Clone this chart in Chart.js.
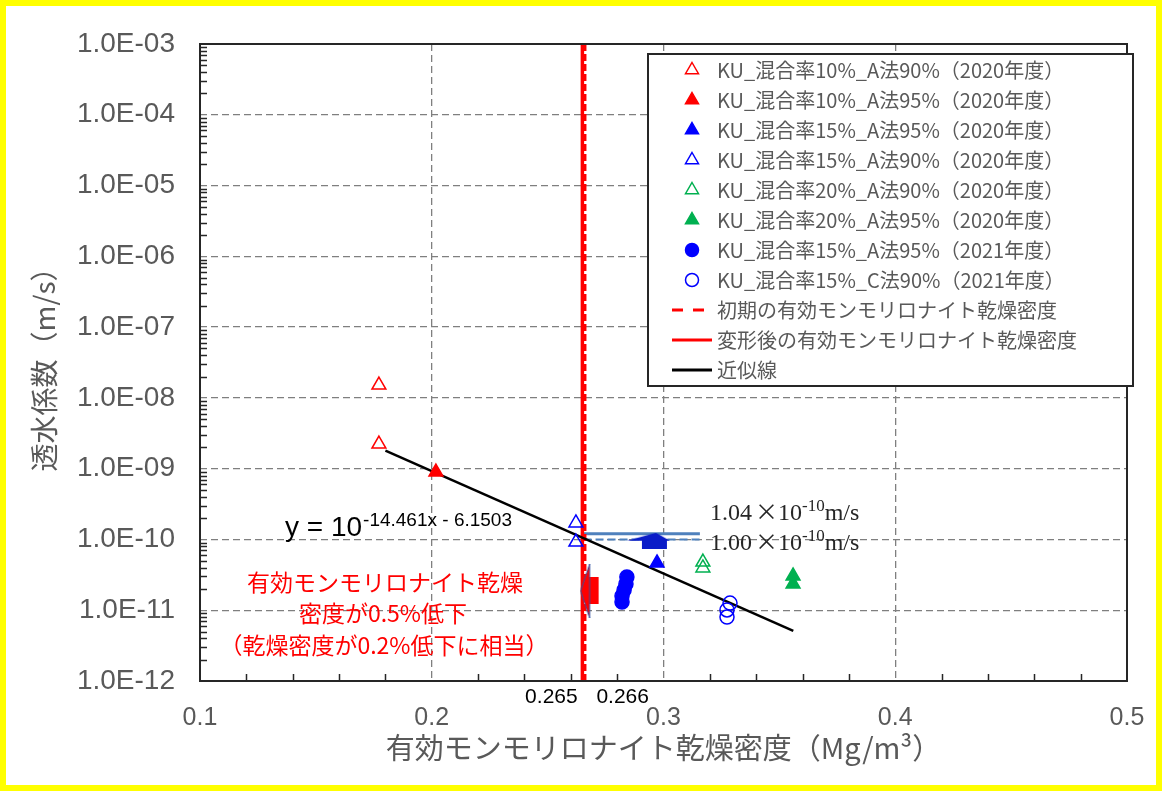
<!DOCTYPE html>
<html><head><meta charset="utf-8">
<script src="https://cdn.jsdelivr.net/npm/chart.js@4/dist/chart.umd.min.js"></script>
<style>html,body{margin:0;padding:0;background:#fff;}canvas{display:block;}</style>
</head><body>
<canvas id="c" width="1162" height="791"></canvas>
<script>
// ---- data ----
const xTicks = [0.1, 0.2, 0.3, 0.4, 0.5];
const yTicks = [1e-12, 1e-11, 1e-10, 1e-9, 1e-8, 1e-7, 1e-6, 1e-5, 1e-4, 1e-3];
const ku10_A90_2020 = [[0.1772, 1.52e-8], [0.1772, 2.23e-9]];
const ku10_A95_2020 = [[0.2018, 8.97e-10]];
const ku15_A95_2020 = [[0.2972, 4.65e-11]];
const ku15_A90_2020 = [[0.2622, 1.71e-10], [0.2622, 9.2e-11]];
const ku20_A90_2020 = [[0.3170, 4.8e-11], [0.3170, 3.96e-11]];
const ku20_A95_2020 = [[0.3559, 3.05e-11], [0.3559, 2.35e-11]];
const ku15_A95_2021 = [[0.2842, 2.95e-11], [0.2838, 2.35e-11], [0.2830, 1.93e-11], [0.2821, 1.59e-11], [0.2821, 1.31e-11]];
const ku15_C90_2021 = [[0.3287, 1.26e-11], [0.3274, 1.01e-11], [0.3274, 8.0e-12]];
const initialDensity = [[0.266, 1e-12], [0.266, 1e-3]];
const deformedDensity = [[0.265, 1e-12], [0.265, 1e-3]];
const fitLine = [[0.18, 1.8e-9], [0.356, 5.1e-12]];
const upperLine = [[0.2655, 1.2e-10], [0.3157, 1.2e-10]];
const lowerLine = [[0.2655, 1.0e-10], [0.3157, 1.0e-10]];
const arrowMark = [[0.2681, 1.87e-11]];
const blueMark = [[0.2937, 9.6e-11]];
const legendLabels = [
  'KU_混合率10%_A法90%（2020年度）',
  'KU_混合率10%_A法95%（2020年度）',
  'KU_混合率15%_A法95%（2020年度）',
  'KU_混合率15%_A法90%（2020年度）',
  'KU_混合率20%_A法90%（2020年度）',
  'KU_混合率20%_A法95%（2020年度）',
  'KU_混合率15%_A法95%（2021年度）',
  'KU_混合率15%_C法90%（2021年度）',
  '初期の有効モンモリロナイト乾燥密度',
  '変形後の有効モンモリロナイト乾燥密度',
  '近似線'
];
const yTitle = '透水係数（m/s）';
const xTitle = '有効モンモリロナイト乾燥密度（Mg/m³）';
const noteLines = ['有効モンモリロナイト乾燥', '密度が0.5%低下', '（乾燥密度が0.2%低下に相当）'];
const equationBase = 'y = 10';
const equationExp = '-14.461x - 6.1503';
const densityLabels = ['0.265', '0.266'];

// ---- helpers ----
const pts = a => a.map(p => ({x: p[0], y: p[1]}));
const RED = '#ff0000', BLUE = '#0000ff', GREEN = '#00b050', STEEL = '#4f81bd';

function makeArrow() {
  const c = document.createElement('canvas'); c.width = 20; c.height = 56;
  const g = c.getContext('2d');
  g.fillStyle = RED;
  g.fillRect(8, 14, 11, 27);
  g.beginPath(); g.moveTo(1, 28); g.lineTo(10, 1); g.lineTo(10, 55); g.closePath();
  g.fill(); g.strokeStyle = '#3050a0'; g.lineWidth = 1; g.stroke();
  return c;
}
function makeBlue() {
  const c = document.createElement('canvas'); c.width = 44; c.height = 16;
  const g = c.getContext('2d');
  g.fillStyle = '#0a1cc8';
  g.beginPath(); g.moveTo(0, 8); g.lineTo(29, 0); g.lineTo(43, 8); g.closePath(); g.fill();
  g.fillRect(15, 6, 25, 10);
  return c;
}

const scatter = (label, data, style, color, filled, r) => ({
  label, data: pts(data), showLine: false, pointStyle: style, pointRadius: r, pointHoverRadius: r,
  pointBackgroundColor: filled ? color : 'rgba(0,0,0,0)', pointBorderColor: color, pointBorderWidth: 1.5
});
const line = (label, data, color, width, dash) => ({
  label, data: pts(data), showLine: true, borderColor: color, borderWidth: width, borderDash: dash || [],
  pointRadius: 0, pointHoverRadius: 0, fill: false
});

const datasets = [
  scatter(legendLabels[0], ku10_A90_2020, 'triangle', RED, false, 8),
  scatter(legendLabels[1], ku10_A95_2020, 'triangle', RED, true, 8),
  scatter('blue mark', blueMark, makeBlue(), BLUE, true, 8),
  scatter(legendLabels[2], ku15_A95_2020, 'triangle', BLUE, true, 8),
  scatter(legendLabels[3], ku15_A90_2020, 'triangle', BLUE, false, 8),
  scatter(legendLabels[4], ku20_A90_2020, 'triangle', GREEN, false, 8),
  scatter(legendLabels[5], ku20_A95_2020, 'triangle', GREEN, true, 8),
  scatter(legendLabels[6], ku15_A95_2021, 'circle', BLUE, true, 7),
  scatter(legendLabels[7], ku15_C90_2021, 'circle', BLUE, false, 7),
  scatter('arrow', arrowMark, makeArrow(), RED, true, 8),
  line(legendLabels[10], fitLine, '#000', 2.5),
  line(legendLabels[8], initialDensity, RED, 3.5, [7, 3]),
  line(legendLabels[9], deformedDensity, RED, 3.5),
  line('upper', upperLine, STEEL, 3),
  line('lower', lowerLine, STEEL, 2, [8, 4])
];

const decor = {
  id: 'decor',
  beforeDraw(chart) {
    const {ctx, width, height} = chart;
    ctx.save();
    ctx.fillStyle = '#ffff00'; ctx.fillRect(0, 0, width, height);
    ctx.fillStyle = '#ffffff'; ctx.fillRect(6, 6, width - 12, height - 12);
    ctx.restore();
  },
  afterDatasetsDraw(chart) {
    const {ctx, chartArea: a} = chart;
    const xs = chart.scales.x, ys = chart.scales.y;
    ctx.save();
    // minor ticks
    ctx.strokeStyle = '#262626'; ctx.lineWidth = 1.5;
    ctx.beginPath();
    for (let e = -12; e < -3; e++) {
      for (let k = 2; k <= 9; k++) {
        const py = Math.round(ys.getPixelForValue(k * Math.pow(10, e))) + 0.5;
        ctx.moveTo(a.left, py); ctx.lineTo(a.left + 7, py);
      }
    }
    for (let i = 1; i < 20; i++) {
      if (i % 5 === 0) continue;
      const px = Math.round(xs.getPixelForValue(0.1 + i * 0.02)) + 0.5;
      ctx.moveTo(px, a.bottom); ctx.lineTo(px, a.bottom - 7);
    }
    ctx.stroke();
    // frame
    ctx.lineWidth = 2; ctx.strokeStyle = '#262626';
    ctx.strokeRect(a.left, a.top, a.right - a.left, a.bottom - a.top);

    // equation
    ctx.fillStyle = '#000'; ctx.textAlign = 'left'; ctx.textBaseline = 'alphabetic';
    ctx.font = '28px "Liberation Sans"';
    ctx.fillText(equationBase, 285, 536);
    let w = ctx.measureText(equationBase).width;
    ctx.font = '19px "Liberation Sans"';
    ctx.fillText(equationExp, 285 + w + 1, 526);

    // sci labels
    function sci(x, y, mant) {
      ctx.fillStyle = '#262626';
      ctx.font = '24px "Liberation Serif"'; ctx.fillText(mant, x, y); x += ctx.measureText(mant).width + 3;
      ctx.font = '23px "Noto Sans CJK JP"'; ctx.fillText('×', x, y); x += ctx.measureText('×').width;
      ctx.font = '24px "Liberation Serif"'; ctx.fillText('10', x, y); x += ctx.measureText('10').width;
      ctx.font = '17px "Liberation Serif"'; ctx.fillText('-10', x, y - 9); x += ctx.measureText('-10').width;
      ctx.font = '24px "Liberation Serif"'; ctx.fillText('m/s', x, y);
    }
    sci(710, 520, '1.04');
    sci(710, 550, '1.00');

    // red note
    ctx.fillStyle = RED; ctx.textAlign = 'center'; ctx.textBaseline = 'middle';
    ctx.font = '23px "Noto Sans CJK JP"';
    ctx.fillText(noteLines[0], 385, 582);
    ctx.fillText(noteLines[1], 383, 613);
    ctx.fillText(noteLines[2], 384, 645);

    // density labels
    ctx.fillStyle = '#000'; ctx.font = '21px "Liberation Sans"';
    ctx.fillText(densityLabels[0], xs.getPixelForValue(deformedDensity[0][0]) - 31, 697);
    ctx.fillText(densityLabels[1], xs.getPixelForValue(initialDensity[0][0]) + 38, 697);
    ctx.restore();
  },
  afterDraw(chart) {
    const {ctx} = chart;
    ctx.save();
    const L = 648, T = 54, R = 1133, B = 386;
    ctx.fillStyle = '#fff'; ctx.fillRect(L, T, R - L, B - T);
    ctx.strokeStyle = '#262626'; ctx.lineWidth = 2; ctx.strokeRect(L, T, R - L, B - T);
    const kinds = [
      ['tri', RED, false], ['tri', RED, true], ['tri', BLUE, true], ['tri', BLUE, false],
      ['tri', GREEN, false], ['tri', GREEN, true], ['circ', BLUE, true], ['circ', BLUE, false],
      ['dash', RED], ['solid', RED], ['solid', '#000']
    ];
    const mx = 692;
    kinds.forEach((k, i) => {
      const y = 70 + i * 30;
      ctx.lineWidth = 1.5; ctx.setLineDash([]);
      if (k[0] === 'tri') {
        const r = 7.5;
        ctx.beginPath();
        ctx.moveTo(mx, y - r); ctx.lineTo(mx + r * 0.866, y + r * 0.5); ctx.lineTo(mx - r * 0.866, y + r * 0.5); ctx.closePath();
        if (k[2]) { ctx.fillStyle = k[1]; ctx.fill(); }
        ctx.strokeStyle = k[1]; ctx.stroke();
      } else if (k[0] === 'circ') {
        ctx.beginPath(); ctx.arc(mx, y, 6.5, 0, Math.PI * 2);
        if (k[2]) { ctx.fillStyle = k[1]; ctx.fill(); }
        ctx.strokeStyle = k[1]; ctx.stroke();
      } else {
        ctx.strokeStyle = k[1]; ctx.lineWidth = 3;
        if (k[0] === 'dash') ctx.setLineDash([11, 10]);
        ctx.beginPath(); ctx.moveTo(672, y); ctx.lineTo(712, y); ctx.stroke();
        ctx.setLineDash([]);
      }
      ctx.fillStyle = '#595959'; ctx.font = '20px "Noto Sans CJK JP"';
      ctx.textAlign = 'left'; ctx.textBaseline = 'middle';
      ctx.fillText(legendLabels[i], 717, y);
    });
    ctx.restore();
  }
};

new Chart(document.getElementById('c'), {
  type: 'scatter',
  data: {datasets},
  options: {
    responsive: false, animation: false, devicePixelRatio: 1,
    layout: {padding: {left: 0, top: 44, right: 35, bottom: 0}},
    plugins: {legend: {display: false}, tooltip: {enabled: false}},
    scales: {
      x: {
        type: 'linear', min: 0.1, max: 0.5,
        afterBuildTicks: s => { s.ticks = xTicks.map(v => ({value: v})); },
        afterFit: s => { s.height = 110; s.paddingLeft = 0; s.paddingRight = 0; },
        ticks: {padding: 22, color: '#595959', font: {family: 'Liberation Sans', size: 25}, callback: v => String(v), maxRotation: 0},
        grid: {color: '#7f7f7f', lineWidth: 1.3, drawTicks: false},
        border: {display: false, dash: [7, 4]},
        title: {display: true, text: xTitle, color: '#595959', font: {family: 'Noto Sans CJK JP', size: 29}, padding: {top: 0, bottom: 26}}
      },
      y: {
        type: 'logarithmic', min: 1e-12, max: 1e-3,
        afterBuildTicks: s => { s.ticks = yTicks.map(v => ({value: v})); },
        afterFit: s => { s.width = 200; s.paddingTop = 0; s.paddingBottom = 0; },
        ticks: {padding: 25, color: '#595959', font: {family: 'Liberation Sans', size: 28},
          callback: v => { const e = Math.round(Math.log10(v)); return '1.0E-' + String(-e).padStart(2, '0'); }},
        grid: {color: '#7f7f7f', lineWidth: 1.3, drawTicks: false},
        border: {display: false, dash: [7, 4]},
        title: {display: true, text: yTitle, color: '#595959', font: {family: 'Noto Sans CJK JP', size: 28}, padding: {top: 28, bottom: 0}}
      }
    }
  },
  plugins: [decor]
});
</script>
</body></html>
